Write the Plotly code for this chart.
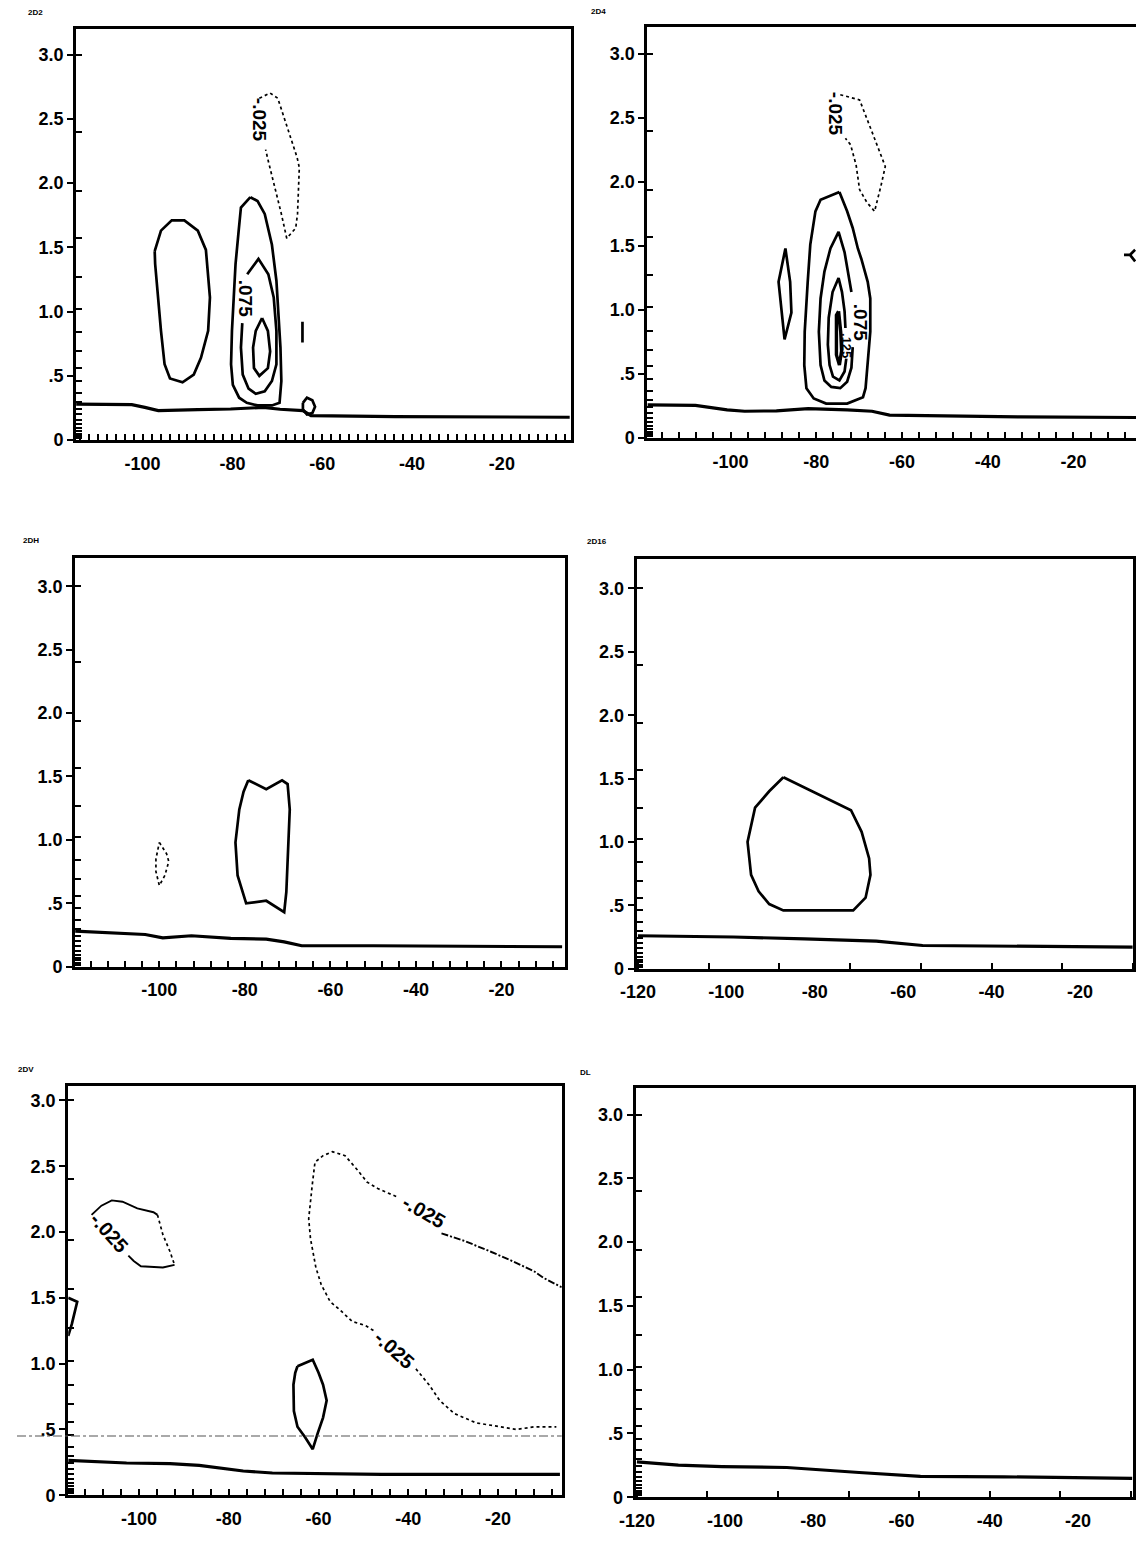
import plotly.graph_objects as go

W, H = 1136, 1541

# ---------------- panel labels ----------------
panel_names = ["2D2", "2D4", "2DH", "2D16", "2DV", "DL"]

# ---------------- axis ticks ----------------
y_tick_vals = [0, 0.5, 1.0, 1.5, 2.0, 2.5, 3.0]
y_tick_text = ["0", ".5", "1.0", "1.5", "2.0", "2.5", "3.0"]
model_levels = [3.0, 2.40, 1.94, 1.57, 1.27, 1.02, 0.84, 0.69, 0.56, 0.46, 0.37,
                0.30, 0.245, 0.20, 0.16, 0.125, 0.095, 0.07, 0.05, 0.03, 0.015]
x_tick_vals_a = [-100, -80, -60, -40, -20]
x_tick_text_a = ["-100", "-80", "-60", "-40", "-20"]
x_tick_vals_b = [-120, -100, -80, -60, -40, -20]
x_tick_text_b = ["-120", "-100", "-80", "-60", "-40", "-20"]
grid_dx = [2, 4, 4, 16, 4, 16]
grid_x0 = [0, 0, 0, -120, 0, -120]

# ---------------- panel 1 (2D2) ----------------
p1_ground_x = [-114.8, -102.4, -99.5, -96.5, -87.7, -80.4, -73.1, -69.4, -64.3, -62.5, -43.8, -4.9]
p1_ground_y = [0.28, 0.276, 0.255, 0.23, 0.237, 0.242, 0.255, 0.24, 0.23, 0.19, 0.183, 0.178]
p1_left_x = [-97.3, -95.9, -93.5, -90.7, -87.7, -85.9, -85.0, -85.4, -87.0, -88.6, -91.1, -93.9, -95.1, -95.9, -97.2, -97.3]
p1_left_y = [1.47, 1.63, 1.71, 1.71, 1.63, 1.48, 1.11, 0.85, 0.64, 0.51, 0.45, 0.48, 0.59, 0.85, 1.37, 1.47]
p1_outer_x = [-76.0, -78.1, -78.6, -79.3, -79.7, -80.1, -80.3, -79.9, -78.5, -76.8, -74.4, -71.2, -69.5,
              -69.1, -69.3, -69.7, -70.2, -71.2, -72.8, -74.4, -76.0]
p1_outer_y = [1.89, 1.81, 1.63, 1.37, 1.11, 0.85, 0.59, 0.43, 0.33, 0.29, 0.27, 0.27, 0.29,
              0.46, 0.72, 0.98, 1.24, 1.52, 1.76, 1.86, 1.89]
p1_mid_x = [-76.7, -74.2, -72.0, -70.8, -70.2, -70.2, -71.2, -72.8, -74.8, -76.4, -77.7, -78.1, -77.8]
p1_mid_y = [1.29, 1.41, 1.29, 1.11, 0.85, 0.59, 0.46, 0.38, 0.36, 0.40, 0.51, 0.72, 0.91]
p1_inner_x = [-73.4, -72.1, -71.6, -72.1, -74.0, -75.2, -75.4, -74.8, -73.4]
p1_inner_y = [0.95, 0.85, 0.69, 0.56, 0.50, 0.56, 0.72, 0.85, 0.95]
p1_neg_x = [-74.0, -71.6, -69.9, -67.5, -65.6, -65.1, -65.5, -65.9, -67.9, -69.1, -70.8, -72.0, -72.6]
p1_neg_y = [2.66, 2.70, 2.66, 2.41, 2.20, 2.12, 1.76, 1.65, 1.57, 1.76, 1.99, 2.17, 2.26]
p1_bar_x = [-64.4, -64.4]
p1_bar_y = [0.92, 0.76]
p1_loop_x = [-64.3, -63.4, -62.2, -61.6, -62.2, -63.4, -64.3, -64.3]
p1_loop_y = [0.29, 0.33, 0.31, 0.26, 0.21, 0.20, 0.24, 0.29]

# ---------------- panel 2 (2D4) ----------------
p2_ground_x = [-119.4, -108.2, -100.8, -96.7, -89.3, -81.9, -72.8, -67.0, -62.9, -53.0, -32.4, -5.4]
p2_ground_y = [0.26, 0.255, 0.22, 0.21, 0.213, 0.23, 0.22, 0.21, 0.18, 0.174, 0.166, 0.161]
p2_lens_x = [-87.2, -88.8, -87.4, -85.8, -86.1, -87.2]
p2_lens_y = [1.48, 1.22, 0.77, 0.98, 1.22, 1.48]
p2_outer_x = [-74.6, -79.0, -80.2, -81.4, -82.0, -82.7, -82.8, -82.3, -80.6, -77.7, -72.8, -69.1, -68.5,
              -68.0, -67.4, -67.4, -68.0, -69.5, -70.3, -71.5, -72.8, -74.6]
p2_outer_y = [1.92, 1.86, 1.77, 1.51, 1.22, 0.83, 0.57, 0.39, 0.31, 0.27, 0.27, 0.32, 0.39,
              0.57, 0.83, 1.09, 1.22, 1.40, 1.48, 1.64, 1.77, 1.92]
p2_mid_x = [-71.5, -71.8, -72.8, -74.4, -76.5, -78.1, -79.0, -79.4, -79.0, -78.1, -76.7, -74.8, -73.4, -72.4, -71.8]
p2_mid_y = [0.71, 0.55, 0.44, 0.39, 0.40, 0.45, 0.57, 0.83, 1.09, 1.30, 1.48, 1.61, 1.45, 1.27, 1.14]
p2_third_x = [-73.2, -73.4, -74.0, -74.8, -76.2, -77.1, -77.3, -76.9, -76.1, -74.6, -73.4, -73.0]
p2_third_y = [0.86, 0.99, 1.14, 1.25, 1.14, 0.94, 0.73, 0.57, 0.48, 0.45, 0.52, 0.62]
p2_core_x = [-74.8, -74.3, -74.1, -74.6, -75.3, -75.4, -75.3, -74.8]
p2_core_y = [0.99, 0.83, 0.68, 0.57, 0.65, 0.83, 0.96, 0.99]
p2_neg_x = [-74.4, -69.9, -67.0, -64.7, -63.9, -64.9, -66.4, -68.2, -69.9, -70.7, -72.0, -73.2]
p2_neg_y = [2.68, 2.64, 2.39, 2.18, 2.12, 1.97, 1.77, 1.84, 1.94, 2.13, 2.29, 2.34]
p2_edge_x = [-8.2, -6.8, -5.6, -6.8, -5.6]
p2_edge_y = [1.43, 1.43, 1.47, 1.43, 1.38]

# ---------------- panel 3 (2DH) ----------------
p3_ground_x = [-119.7, -103.3, -99.2, -92.5, -83.3, -75.0, -70.8, -66.7, -50.0, -5.8]
p3_ground_y = [0.28, 0.254, 0.228, 0.244, 0.223, 0.217, 0.196, 0.165, 0.165, 0.157]
p3_box_x = [-79.2, -75.0, -71.3, -70.0, -69.5, -70.0, -70.3, -70.8, -75.0, -79.7, -81.7, -82.2, -81.3, -80.3, -79.2]
p3_box_y = [1.47, 1.40, 1.47, 1.44, 1.24, 0.85, 0.59, 0.43, 0.52, 0.50, 0.72, 0.98, 1.24, 1.38, 1.47]
p3_neg_x = [-100.0, -98.3, -97.8, -98.7, -100.0, -100.8, -100.8, -100.0]
p3_neg_y = [0.98, 0.89, 0.83, 0.72, 0.64, 0.75, 0.85, 0.98]

# ---------------- panel 4 (2D16) ----------------
p4_ground_x = [-120.0, -98.4, -82.3, -66.1, -55.6, -33.9, -8.1]
p4_ground_y = [0.26, 0.25, 0.235, 0.217, 0.183, 0.175, 0.170]
p4_pos_x = [-87.1, -71.8, -69.4, -67.7, -67.4, -68.5, -71.3, -87.1, -90.3, -92.7, -94.4, -95.2, -93.5, -90.3, -87.1]
p4_pos_y = [1.51, 1.25, 1.08, 0.87, 0.74, 0.56, 0.46, 0.46, 0.51, 0.61, 0.74, 1.00, 1.27, 1.40, 1.51]

# ---------------- panel 5 (2DV) ----------------
p5_ground_x = [-115.8, -102.8, -93.1, -86.6, -76.8, -70.3, -46.0, -6.2]
p5_ground_y = [0.265, 0.245, 0.24, 0.227, 0.184, 0.169, 0.159, 0.159]
p5_nw_top_x = [-110.6, -108.4, -106.1, -103.7, -100.4, -96.8, -95.9]
p5_nw_top_y = [2.13, 2.20, 2.24, 2.23, 2.18, 2.15, 2.13]
p5_nw_side_x = [-95.9, -94.7, -93.1, -92.1]
p5_nw_side_y = [2.13, 1.98, 1.85, 1.75]
p5_nw_bot_x = [-92.1, -94.7, -99.6, -101.2, -102.4]
p5_nw_bot_y = [1.75, 1.73, 1.74, 1.78, 1.82]
p5_edge_x = [-115.8, -113.8, -115.0, -115.8]
p5_edge_y = [1.50, 1.47, 1.30, 1.21]
p5_upper_x = [-42.7, -46.8, -49.2, -51.3, -54.1, -56.9, -59.0, -60.8, -61.4, -62.2, -61.8,
              -60.6, -59.4, -57.4, -55.3, -52.5, -49.6, -47.2]
p5_upper_y = [2.27, 2.33, 2.38, 2.47, 2.58, 2.61, 2.58, 2.53, 2.36, 2.10, 1.95,
              1.73, 1.60, 1.47, 1.41, 1.32, 1.29, 1.24]
p5_ne_x = [-32.6, -27.3, -21.6, -17.5, -11.9, -9.8, -5.8]
p5_ne_y = [1.99, 1.93, 1.85, 1.79, 1.70, 1.65, 1.58]
p5_se_x = [-38.3, -35.4, -33.0, -29.7, -24.9, -20.0, -15.9, -11.9, -7.0]
p5_se_y = [0.96, 0.84, 0.72, 0.62, 0.55, 0.52, 0.50, 0.52, 0.52]
p5_oval_x = [-64.7, -61.3, -60.0, -59.0, -58.2, -59.0, -60.2, -61.3, -63.0, -64.7, -65.5, -65.6, -65.2, -64.7]
p5_oval_y = [0.98, 1.03, 0.93, 0.84, 0.72, 0.59, 0.47, 0.35, 0.44, 0.52, 0.64, 0.84, 0.93, 0.98]
p5_scan_y = 0.45

# ---------------- panel 6 (DL) ----------------
p6_ground_x = [-120.0, -110.6, -100.7, -86.0, -69.6, -55.7, -36.8, -7.7]
p6_ground_y = [0.277, 0.251, 0.24, 0.233, 0.194, 0.163, 0.160, 0.147]

# contour labels: (panel, text, x, y, angle, size)
contour_labels = [
    (1, "-.025", -73.8, 2.49, 90, 19), (1, ".075", -77.2, 1.10, 90, 19),
    (2, "-.025", -75.6, 2.53, 90, 19), (2, ".075", -69.8, 0.90, 90, 19),
    (2, ".125", -73.1, 0.72, 90, 13),
    (5, "-.025", -106.6, 1.99, 48, 20), (5, "-.025", -36.4, 2.15, 30, 20),
    (5, "-.025", -43.1, 1.10, 42, 20),
]

# ---------------- frame geometry (pixels) ----------------
frames = [  # left, right, top, bottom
    (60, 562, 29, 443),
    (640, 1136, 27, 441),
    (59, 556, 562, 973),
    (629, 1133, 563, 975),
    (52, 553, 1093, 1505),
    (628, 1133, 1095, 1507),
]
x_ranges = [(-114.8, -4.7), (-119.4, -5.4), (-119.7, -5.2), (-120.3, -8.0), (-115.8, -5.8), (-120.3, -7.5)]
y_tops = [3.2, 3.21, 3.22, 3.23, 3.11, 3.21]
title_pos = [(19, 13), (590, 12), (14, 544), (589, 545), (9, 1076), (577, 1080)]

fig = go.Figure()

SOLID = dict(color="black", width=2.7)
GROUND = dict(color="black", width=3.2)
DOTTED = dict(color="black", width=1.7, dash="dot")
DASHED = dict(color="black", width=1.9, dash="7px,2px,2px,2px")


def add(panel, xs, ys, line):
    sfx = "" if panel == 1 else str(panel)
    fig.add_trace(go.Scatter(x=xs, y=ys, mode="lines", line=line, hoverinfo="skip",
                             showlegend=False, xaxis="x" + sfx, yaxis="y" + sfx))


add(1, p1_ground_x, p1_ground_y, GROUND)
add(1, p1_left_x, p1_left_y, SOLID)
add(1, p1_outer_x, p1_outer_y, SOLID)
add(1, p1_mid_x, p1_mid_y, SOLID)
add(1, p1_inner_x, p1_inner_y, SOLID)
add(1, p1_neg_x, p1_neg_y, DOTTED)
add(1, p1_bar_x, p1_bar_y, SOLID)
add(1, p1_loop_x, p1_loop_y, SOLID)

add(2, p2_ground_x, p2_ground_y, GROUND)
add(2, p2_lens_x, p2_lens_y, SOLID)
add(2, p2_outer_x, p2_outer_y, SOLID)
add(2, p2_mid_x, p2_mid_y, SOLID)
add(2, p2_third_x, p2_third_y, SOLID)
add(2, p2_core_x, p2_core_y, dict(color="black", width=3.4))
add(2, p2_neg_x, p2_neg_y, DOTTED)
add(2, p2_edge_x, p2_edge_y, SOLID)

add(3, p3_ground_x, p3_ground_y, GROUND)
add(3, p3_box_x, p3_box_y, SOLID)
add(3, p3_neg_x, p3_neg_y, DOTTED)

add(4, p4_ground_x, p4_ground_y, GROUND)
add(4, p4_pos_x, p4_pos_y, SOLID)

add(5, p5_ground_x, p5_ground_y, GROUND)
add(5, p5_nw_top_x, p5_nw_top_y, dict(color="black", width=1.9))
add(5, p5_nw_side_x, p5_nw_side_y, DOTTED)
add(5, p5_nw_bot_x, p5_nw_bot_y, dict(color="black", width=1.9))
add(5, p5_edge_x, p5_edge_y, SOLID)
add(5, p5_upper_x, p5_upper_y, DOTTED)
add(5, p5_ne_x, p5_ne_y, DASHED)
add(5, p5_se_x, p5_se_y, DOTTED)
add(5, p5_oval_x, p5_oval_y, SOLID)

add(6, p6_ground_x, p6_ground_y, GROUND)

TICKFONT = dict(family="Liberation Sans", size=18, color="black", weight="bold")
layout = {}
for i, (l, r, t, b) in enumerate(frames):
    n = i + 1
    sfx = "" if n == 1 else str(n)
    xv, xt = (x_tick_vals_b, x_tick_text_b) if n in (4, 6) else (x_tick_vals_a, x_tick_text_a)
    layout["xaxis" + sfx] = dict(
        domain=[l / W, r / W], anchor="y" + sfx, range=list(x_ranges[i]),
        showgrid=False, zeroline=False, showline=True, linecolor="black", linewidth=3,
        mirror=True, tickmode="array", tickvals=xv, ticktext=xt, ticks="",
        tickfont=TICKFONT, ticklabelstandoff=5,
        minor=dict(ticks="inside", ticklen=6, tickwidth=1.6, tickcolor="black",
                   tickmode="linear", tick0=grid_x0[i], dtick=grid_dx[i], showgrid=False),
    )
    layout["yaxis" + sfx] = dict(
        domain=[1 - b / H, 1 - t / H], anchor="x" + sfx, range=[0, y_tops[i]],
        showgrid=False, zeroline=False, showline=True, linecolor="black", linewidth=3,
        mirror=(n != 2), tickmode="array", tickvals=y_tick_vals, ticktext=y_tick_text,
        ticks="outside", ticklen=6, tickwidth=2, tickcolor="black", tickfont=TICKFONT,
        minor=dict(ticks="inside", ticklen=6, tickwidth=1.6, tickcolor="black",
                   tickmode="array", tickvals=model_levels, showgrid=False),
    )

annotations = []
for name, (px, py) in zip(panel_names, title_pos):
    annotations.append(dict(text=name, x=px / W, y=1 - py / H, xref="paper", yref="paper",
                            showarrow=False, xanchor="center", yanchor="middle",
                            font=dict(family="Liberation Sans", size=8, color="black", weight="bold")))
for panel, txt, x, y, ang, sz in contour_labels:
    sfx = "" if panel == 1 else str(panel)
    annotations.append(dict(text=txt, x=x, y=y, xref="x" + sfx, yref="y" + sfx, showarrow=False,
                            textangle=ang,
                            font=dict(family="Liberation Sans", size=sz, color="black", weight="bold")))

shapes = [
    dict(type="line", xref="paper", yref="y5", x0=0, x1=553 / W, y0=p5_scan_y, y1=p5_scan_y,
         line=dict(color="#555555", width=1.2, dash="dashdot")),
]

fig.update_layout(
    width=W, height=H, margin=dict(l=0, r=0, t=0, b=0),
    paper_bgcolor="white", plot_bgcolor="white",
    annotations=annotations, shapes=shapes, showlegend=False,
    **layout,
)

fig.write_html("out.html")
